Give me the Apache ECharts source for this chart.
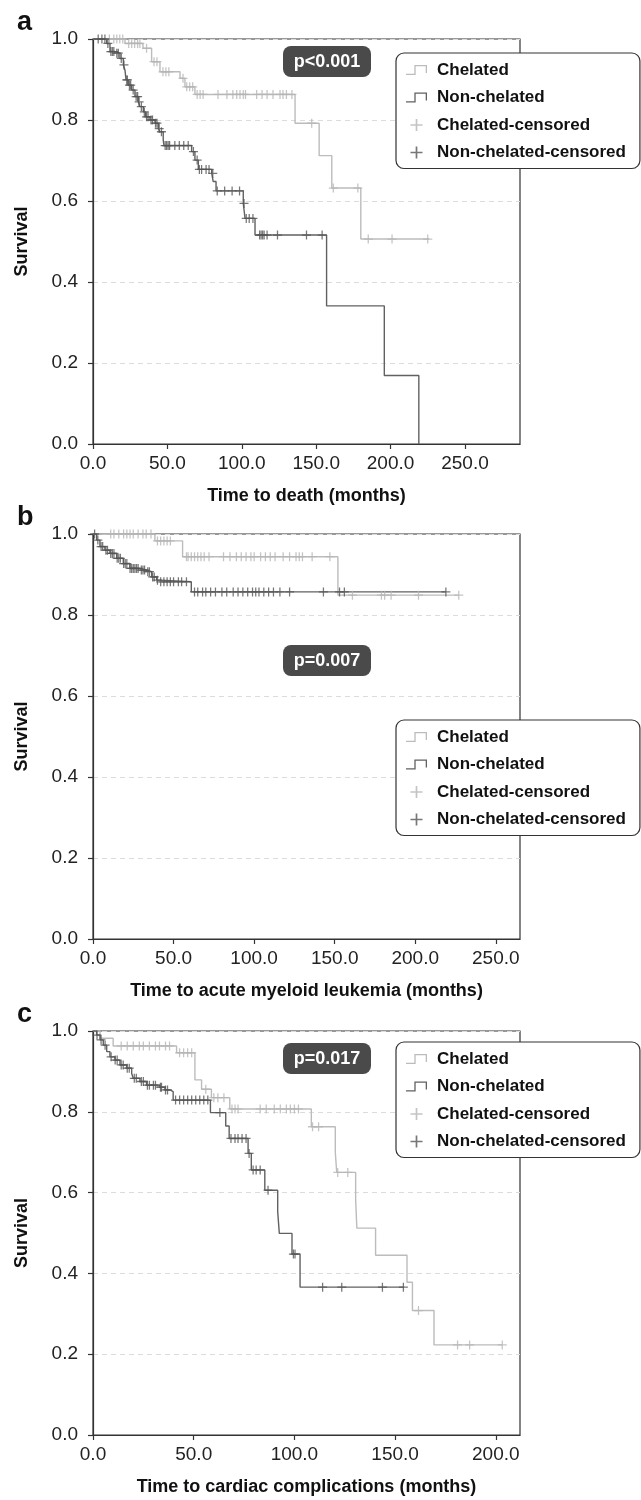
<!DOCTYPE html>
<html>
<head>
<meta charset="utf-8">
<script src="https://cdn.jsdelivr.net/npm/echarts@6/dist/echarts.min.js"></script>
<style>
html,body{margin:0;padding:0;background:#fff;}
#chart{width:641px;height:1500px;}
</style>
</head>
<body>
<div id="chart"></div>
<script>
// ---------- Data (time in months, survival proportion) ----------
// Panel a: Time to death
const deathChelated = [[0,1],[21.5,0.989],[33.6,0.977],[39.4,0.944],[45,0.919],[58.5,0.903],[61.8,0.882],[68.5,0.863],[135.8,0.792],[152,0.712],[160.5,0.632],[180,0.506],[226,0.506]];
const deathNonChelated = [[0,1],[9.2,0.989],[11.4,0.969],[14.8,0.965],[18.1,0.952],[20.4,0.936],[21.5,0.923],[22.2,0.899],[23.7,0.886],[26,0.874],[28.2,0.858],[30.4,0.845],[31.6,0.833],[33.8,0.820],[35.4,0.808],[38.3,0.800],[41.7,0.792],[43.9,0.779],[45,0.771],[47.2,0.751],[47.7,0.737],[66.3,0.722],[68.5,0.701],[70.8,0.678],[79.8,0.668],[80.8,0.648],[82.7,0.625],[101,0.594],[102.2,0.557],[108.9,0.516],[157,0.341],[195.8,0.169],[219,0]];
const deathChelatedCens = [[11,1],[14,1],[16,1],[18,1],[20,1],[24,0.989],[26,0.989],[28,0.989],[30,0.989],[31.5,0.989],[36,0.977],[41,0.944],[43,0.944],[47,0.919],[49,0.919],[51,0.919],[60.5,0.903],[63,0.882],[65,0.882],[67,0.882],[70,0.863],[72,0.863],[74,0.863],[84,0.863],[90,0.863],[94,0.863],[96.6,0.863],[98.8,0.863],[101,0.863],[102.5,0.863],[110,0.863],[113.6,0.863],[117,0.863],[121,0.863],[125.7,0.863],[127.7,0.863],[130,0.863],[133.7,0.863],[147,0.792],[161.5,0.632],[178,0.632],[185,0.506],[201,0.506],[225,0.506]];
const deathNonChelatedCens = [[3.5,1],[6,1],[8,1],[10,0.989],[12,0.969],[13,0.969],[14,0.969],[16,0.965],[17,0.965],[19,0.952],[20.8,0.936],[22.8,0.899],[23,0.899],[24.5,0.886],[25.3,0.886],[27,0.874],[29,0.858],[30,0.858],[31,0.845],[32.5,0.833],[34.5,0.820],[36,0.808],[37,0.808],[39,0.800],[40,0.800],[42,0.792],[43,0.792],[44.5,0.779],[46,0.771],[48.5,0.737],[49.5,0.737],[50.5,0.737],[51.5,0.737],[55,0.737],[58,0.737],[61,0.737],[64,0.737],[67.5,0.722],[70,0.701],[71.5,0.678],[73,0.678],[76,0.678],[78,0.678],[80.5,0.668],[83.5,0.625],[88.5,0.625],[93.5,0.625],[98.5,0.625],[101.5,0.594],[103,0.557],[105,0.557],[107.5,0.557],[112,0.516],[113,0.516],[114,0.516],[115,0.516],[117,0.516],[124,0.516],[143.5,0.516],[154,0.516]];

// Panel b: Time to acute myeloid leukemia
const amlChelated = [[0,1],[38.4,0.983],[55.6,0.944],[152,0.849],[227,0.849]];
const amlNonChelated = [[0,1],[2.3,0.985],[4.3,0.969],[7.4,0.960],[10.5,0.952],[14.7,0.940],[18.8,0.927],[22.9,0.915],[29,0.911],[33.3,0.907],[36.4,0.894],[39.5,0.886],[41.5,0.882],[61,0.857],[219,0.857]];
const amlChelatedCens = [[11,1],[13,1],[16,1],[19,1],[21,1],[23,1],[25,1],[28,1],[31,1],[33,1],[36,1],[40,0.983],[42,0.983],[44,0.983],[46,0.983],[48,0.983],[58,0.944],[59,0.944],[61,0.944],[63,0.944],[65,0.944],[67,0.944],[69,0.944],[72,0.944],[81,0.944],[85,0.944],[89,0.944],[92,0.944],[95,0.944],[98,0.944],[100,0.944],[104,0.944],[107,0.944],[110,0.944],[113,0.944],[118,0.944],[122,0.944],[126,0.944],[128,0.944],[130,0.944],[136,0.944],[147,0.944],[161,0.849],[179,0.849],[181,0.849],[185,0.849],[202,0.849],[227,0.849]];
const amlNonChelatedCens = [[1,1],[3,0.985],[5,0.969],[6,0.969],[8,0.960],[9,0.960],[11,0.952],[12,0.952],[13,0.952],[15,0.940],[16,0.940],[17,0.940],[19,0.927],[20,0.927],[21,0.927],[23,0.915],[24,0.915],[25,0.915],[26,0.915],[27,0.915],[28,0.915],[30,0.911],[31,0.911],[32,0.911],[34,0.907],[35,0.907],[37,0.894],[38,0.894],[40,0.886],[42,0.882],[44,0.882],[46,0.882],[48,0.882],[50,0.882],[53,0.882],[55,0.882],[58,0.882],[63,0.857],[65,0.857],[68,0.857],[70,0.857],[73,0.857],[76,0.857],[80,0.857],[83,0.857],[87,0.857],[90,0.857],[93,0.857],[96,0.857],[99,0.857],[101,0.857],[103,0.857],[106,0.857],[109,0.857],[112,0.857],[116,0.857],[122,0.857],[143,0.857],[153,0.857],[156,0.857],[219,0.857]];

// Panel c: Time to cardiac complications
const cardChelated = [[0,1],[3.5,0.982],[10,0.963],[41.5,0.946],[50.6,0.879],[53.9,0.856],[58.8,0.835],[67.9,0.807],[108.4,0.763],[120.3,0.70],[121,0.650],[130.4,0.582],[131,0.512],[140.3,0.445],[155.9,0.378],[158.6,0.308],[169.3,0.223],[203.2,0.223]];
const cardNonChelated = [[0,1],[1.8,0.990],[3.5,0.978],[5.1,0.965],[6.8,0.949],[8.4,0.936],[10.9,0.928],[13.4,0.916],[16.7,0.908],[19.2,0.895],[20,0.883],[23.3,0.875],[26.6,0.866],[33.2,0.861],[35.7,0.854],[38.2,0.850],[39.8,0.829],[58.3,0.798],[65.9,0.765],[67.6,0.734],[77,0.697],[78.6,0.656],[85.3,0.606],[91.7,0.553],[92.5,0.499],[98.8,0.448],[102.8,0.366],[154.5,0.366]];
const cardChelatedCens = [[14,0.963],[17,0.963],[20,0.963],[23,0.963],[25,0.963],[28,0.963],[31,0.963],[33,0.963],[36,0.963],[38,0.963],[43,0.946],[45,0.946],[47,0.946],[49,0.946],[56,0.856],[60,0.835],[62,0.835],[65,0.835],[69,0.807],[70.5,0.807],[72,0.807],[83,0.807],[86,0.807],[90,0.807],[93,0.807],[96,0.807],[98,0.807],[100,0.807],[102,0.807],[109,0.763],[112,0.763],[121.5,0.650],[126.5,0.650],[161.6,0.308],[181,0.223],[187,0.223],[203.2,0.223]];
const cardNonChelatedCens = [[2,0.990],[4,0.978],[6,0.965],[9,0.936],[11,0.928],[12,0.928],[14,0.916],[15,0.916],[17,0.908],[18,0.908],[20.5,0.883],[21.5,0.883],[24,0.875],[25,0.875],[27,0.866],[28,0.866],[30,0.866],[31,0.866],[33.5,0.861],[34,0.861],[36,0.854],[37,0.854],[41,0.829],[43,0.829],[45,0.829],[47,0.829],[49,0.829],[51,0.829],[53,0.829],[55,0.829],[57,0.829],[63,0.798],[68.5,0.734],[70.5,0.734],[72,0.734],[74,0.734],[76,0.734],[77.5,0.697],[79.5,0.656],[81,0.656],[83,0.656],[86.9,0.606],[99.5,0.448],[100.3,0.448],[114,0.366],[123.5,0.366],[143.7,0.366],[154.1,0.366]];

// Tick labels / axis ranges
const deathTicks = [0,50,100,150,200,250];
const amlTicks = [0,50,100,150,200,250];
const cardTicks = [0,50,100,150,200];
const survivalTicks = [0,0.2,0.4,0.6,0.8,1.0];
const xMax = [287, 265, 212];
const xTitles = ['Time to death (months)','Time to acute myeloid leukemia (months)','Time to cardiac complications (months)'];
const pValues = ['p<0.001','p=0.007','p=0.017'];
const panelLetters = ['a','b','c'];
const seriesNames = ['Chelated','Non-chelated','Chelated-censored','Non-chelated-censored'];

// ---------- Styling ----------
const FONT = "'Liberation Sans', Arial, sans-serif";
const LIGHT = '#bcbcbc';
const DARK = '#616161';
const LIGHT_MARK = '#b5b5b5';
const DARK_MARK = '#555555';
const AXIS = '#333333';
const stepIcon = 'path://M0,8.7H8.35V0H21V8H19.7V1.3H9.65V10H0Z';
const plusIcon = 'path://M4.3,0H5.7V4.3H10V5.7H5.7V10H4.3V5.7H0V4.3H4.3Z';

const grids = [
  {left:93, top:39, width:427, height:405},
  {left:93, top:534, width:427, height:405},
  {left:93, top:1031, width:427, height:404}
];
const legendTops = [53, 720, 1042];
const pBoxes = [[283,46],[283,645],[283,1043]];
const letterPos = [[17,23],[17,518],[17,1015]];
const xTickSets = [deathTicks, amlTicks, cardTicks];
const dataSets = [
  [deathChelated, deathNonChelated, deathChelatedCens, deathNonChelatedCens],
  [amlChelated, amlNonChelated, amlChelatedCens, amlNonChelatedCens],
  [cardChelated, cardNonChelated, cardChelatedCens, cardNonChelatedCens]
];

const option = {
  animation:false,
  backgroundColor:'#fff',
  grid: grids.map(g => Object.assign({show:true, borderColor:AXIS, borderWidth:1.2, backgroundColor:'transparent'}, g)),
  xAxis: grids.map((g,i) => ({
    gridIndex:i, type:'value', min:0, max:xMax[i],
    name:xTitles[i], nameLocation:'middle', nameGap:43,
    nameTextStyle:{fontFamily:FONT, fontWeight:'bold', fontSize:18, color:'#111'},
    axisLine:{show:true, onZero:false, lineStyle:{color:AXIS, width:1.2}},
    axisTick:{show:true, length:5, customValues:xTickSets[i], lineStyle:{color:AXIS, width:1.2}},
    axisLabel:{customValues:xTickSets[i], formatter:v=>Number(v).toFixed(1), fontFamily:FONT, fontSize:19, color:'#222', margin:10},
    splitLine:{show:false}
  })),
  yAxis: grids.map((g,i) => ({
    gridIndex:i, type:'value', min:0, max:1, interval:0.2,
    name:'Survival', nameLocation:'middle', nameGap:62,
    nameTextStyle:{fontFamily:FONT, fontWeight:'bold', fontSize:18, color:'#111'},
    axisLine:{show:true, lineStyle:{color:AXIS, width:1.2}},
    axisTick:{show:true, length:5, lineStyle:{color:AXIS, width:1.2}},
    axisLabel:{formatter:v=>Number(v).toFixed(1), fontFamily:FONT, fontSize:19, color:'#222', margin:15},
    splitLine:{show:true, lineStyle:{color:'#dcdcdc', type:[5,4], width:1}}
  })),
  legend: grids.map((g,i) => ({
    orient:'vertical', left:396, top:legendTops[i],
    itemWidth:21, itemHeight:12, itemGap:7.5,
    padding:[7,14,6,10],
    borderColor:AXIS, borderWidth:1.2, borderRadius:8, backgroundColor:'#fff',
    selectedMode:false, z:10,
    textStyle:{fontFamily:FONT, fontWeight:'bold', fontSize:17, color:'#111', lineHeight:20, padding:[0,0,0,5]},
    data:[
      {name:seriesNames[0], icon:stepIcon},
      {name:seriesNames[1], icon:stepIcon},
      {name:seriesNames[2], icon:plusIcon},
      {name:seriesNames[3], icon:plusIcon}
    ]
  })),
  series: [],
  graphic: []
};

dataSets.forEach((ds,i) => {
  option.series.push({
    name:seriesNames[0], type:'line', xAxisIndex:i, yAxisIndex:i, step:'end', data:ds[0],
    showSymbol:false, symbol:'none', color:LIGHT, itemStyle:{color:LIGHT}, lineStyle:{color:LIGHT, width:1.4}, z:3
  });
  option.series.push({
    name:seriesNames[1], type:'line', xAxisIndex:i, yAxisIndex:i, step:'end', data:ds[1],
    showSymbol:false, symbol:'none', color:DARK, itemStyle:{color:DARK}, lineStyle:{color:DARK, width:1.4}, z:3
  });
  option.series.push({
    name:seriesNames[2], type:'scatter', xAxisIndex:i, yAxisIndex:i, data:ds[2],
    symbol:plusIcon, symbolSize:9, color:LIGHT_MARK, itemStyle:{color:LIGHT_MARK}, z:4
  });
  option.series.push({
    name:seriesNames[3], type:'scatter', xAxisIndex:i, yAxisIndex:i, data:ds[3],
    symbol:plusIcon, symbolSize:9, color:DARK_MARK, itemStyle:{color:DARK_MARK}, z:4
  });
  option.graphic.push({
    type:'group', left:pBoxes[i][0], top:pBoxes[i][1], z:20,
    children:[
      {type:'rect', shape:{x:0,y:0,width:88,height:31,r:8}, style:{fill:'#4a4a4a'}},
      {type:'text', x:44, y:16, style:{text:pValues[i], fill:'#fff', font:"bold 18px " + FONT, textAlign:'center', textVerticalAlign:'middle'}}
    ]
  });
  option.graphic.push({
    type:'text', x:letterPos[i][0], y:letterPos[i][1], z:20,
    style:{text:panelLetters[i], fill:'#111', font:"bold 27px " + FONT, textAlign:'left', textVerticalAlign:'middle'}
  });
});

const chart = echarts.init(document.getElementById('chart'), null, {renderer:'canvas'});
chart.setOption(option);
</script>
</body>
</html>
